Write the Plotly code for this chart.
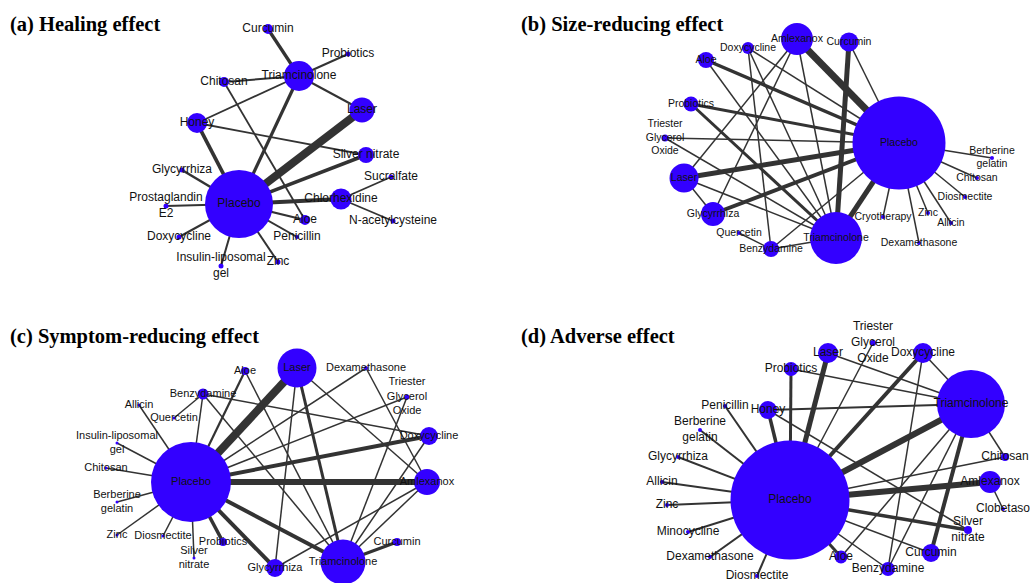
import plotly.graph_objects as go

NODE_COLOR = "#3300ff"
EDGE_COLOR = "#333333"

# ---------------- Panel (a) Healing effect ----------------
a_title = "(a) Healing effect"
a_nodes = ["Placebo", "Triamcinolone", "Laser", "Honey", "Sliver nitrate", "Chlorhexidine",
           "Curcumin", "Probiotics", "Chitosan", "Sucralfate", "N-acetylcysteine", "Aloe",
           "Penicillin", "Zinc", "Insulin-liposomal<br>gel", "Doxycycline", "Prostaglandin<br>E2",
           "Glycyrrhiza"]
a_x = [239, 299, 362, 197, 366, 341, 268, 348, 224, 391, 393, 305, 297, 278, 221, 179, 166, 182]
a_y = [204, 76, 110, 123, 155, 199, 29, 54, 82, 177, 221, 220, 237, 262, 266, 237, 206, 170]
a_size = [68, 30, 25, 20, 16, 21, 10, 5, 10, 5, 5, 10, 4, 5, 5, 5, 5, 5]
a_edges = [
    ("Placebo", "Laser", 8), ("Placebo", "Triamcinolone", 3.2), ("Placebo", "Honey", 3.8),
    ("Placebo", "Sliver nitrate", 3.5), ("Placebo", "Chlorhexidine", 3.8),
    ("Placebo", "Glycyrrhiza", 2.6), ("Placebo", "Prostaglandin<br>E2", 2),
    ("Placebo", "Doxycycline", 2), ("Placebo", "Insulin-liposomal<br>gel", 2),
    ("Placebo", "Zinc", 2), ("Placebo", "Penicillin", 2), ("Placebo", "Aloe", 2),
    ("Triamcinolone", "Curcumin", 3.3), ("Triamcinolone", "Probiotics", 2),
    ("Triamcinolone", "Chitosan", 2), ("Triamcinolone", "Honey", 1.8),
    ("Triamcinolone", "Laser", 2), ("Chitosan", "Aloe", 1.8), ("Honey", "Sliver nitrate", 1.8),
    ("Chlorhexidine", "Sucralfate", 1.8), ("Chlorhexidine", "N-acetylcysteine", 1.8),
]

# ---------------- Panel (b) Size-reducing effect ----------------
b_title = "(b) Size-reducing effect"
b_nodes = ["Placebo", "Triamcinolone", "Amlexanox", "Curcumin", "Doxycycline", "Aloe",
           "Probiotics", "Triester<br>Glycerol<br>Oxide", "Laser", "Glycyrrhiza", "Quercetin",
           "Benzydamine", "Cryotherapy", "Zinc", "Allicin", "Dexamethasone", "Diosmectite",
           "Chitosan", "Berberine<br>gelatin"]
b_x = [899, 836, 797, 849, 748, 706, 691, 665, 684, 713, 739, 771, 883, 928, 951, 919, 965, 977, 992]
b_y = [143, 238, 39, 42, 48, 60, 104, 138, 178, 214, 233, 249, 217, 213, 223, 243, 197, 178, 158]
b_size = [93, 52, 32, 19, 12, 16, 15, 7, 29, 24, 4, 16, 4, 4, 4, 4, 4, 4, 4]
b_edges = [
    ("Placebo", "Amlexanox", 7), ("Placebo", "Curcumin", 1.5), ("Placebo", "Triamcinolone", 5),
    ("Placebo", "Aloe", 3.5), ("Placebo", "Probiotics", 3), ("Placebo", "Triester<br>Glycerol<br>Oxide", 1.5),
    ("Placebo", "Laser", 5), ("Placebo", "Glycyrrhiza", 4), ("Placebo", "Doxycycline", 1.5),
    ("Placebo", "Benzydamine", 1.5), ("Placebo", "Cryotherapy", 1.5), ("Placebo", "Zinc", 1.5),
    ("Placebo", "Allicin", 1.5), ("Placebo", "Dexamethasone", 1.5), ("Placebo", "Diosmectite", 1.5),
    ("Placebo", "Chitosan", 1.5), ("Placebo", "Berberine<br>gelatin", 1.5),
    ("Triamcinolone", "Curcumin", 5), ("Triamcinolone", "Amlexanox", 1.5),
    ("Triamcinolone", "Doxycycline", 1.5), ("Triamcinolone", "Aloe", 1.5),
    ("Triamcinolone", "Probiotics", 3), ("Triamcinolone", "Triester<br>Glycerol<br>Oxide", 1.5),
    ("Triamcinolone", "Laser", 1.5), ("Triamcinolone", "Benzydamine", 1.5),
    ("Amlexanox", "Laser", 1.5), ("Amlexanox", "Glycyrrhiza", 1.5),
    ("Doxycycline", "Benzydamine", 1.5), ("Laser", "Glycyrrhiza", 1.5),
    ("Quercetin", "Benzydamine", 1.5),
]

# ---------------- Panel (c) Symptom-reducing effect ----------------
c_title = "(c) Symptom-reducing effect"
c_nodes = ["Placebo", "Laser", "Triamcinolone", "Amlexanox", "Doxycycline", "Glycyrrhiza",
           "Curcumin", "Probiotics", "Aloe", "Benzydamine", "Dexamethasone",
           "Triester<br>Glycerol<br>Oxide", "Allicin", "Quercetin", "Insulin-liposomal<br>gel",
           "Chitosan", "Berberine<br>gelatin", "Zinc", "Diosmectite", "Silver<br>nitrate"]
c_x = [191, 297, 343, 427, 429, 275, 397, 223, 245, 203, 366, 407, 139, 174, 117, 106, 117, 117, 163, 194]
c_y = [482, 368, 562, 482, 436, 568, 542, 542, 371, 394, 368, 397, 405, 418, 443, 468, 502, 535, 536, 558]
c_size = [80, 39, 45, 26, 18, 18, 8, 8, 8, 11, 4, 5, 3, 3, 3, 3, 3, 3, 3, 3]
c_edges = [
    ("Placebo", "Laser", 8), ("Placebo", "Amlexanox", 6), ("Placebo", "Doxycycline", 4),
    ("Placebo", "Triamcinolone", 4), ("Placebo", "Glycyrrhiza", 4), ("Placebo", "Probiotics", 3.5),
    ("Placebo", "Aloe", 2.2), ("Placebo", "Benzydamine", 1.5), ("Placebo", "Allicin", 1.5),
    ("Placebo", "Insulin-liposomal<br>gel", 1.5), ("Placebo", "Chitosan", 1.5),
    ("Placebo", "Berberine<br>gelatin", 1.5), ("Placebo", "Zinc", 1.5), ("Placebo", "Diosmectite", 1.5),
    ("Placebo", "Silver<br>nitrate", 1.5), ("Placebo", "Dexamethasone", 1.5),
    ("Placebo", "Triester<br>Glycerol<br>Oxide", 1.5),
    ("Laser", "Triamcinolone", 3), ("Laser", "Glycyrrhiza", 1.5), ("Laser", "Amlexanox", 1.5),
    ("Aloe", "Triamcinolone", 1.5), ("Benzydamine", "Doxycycline", 1.5),
    ("Benzydamine", "Triamcinolone", 1.5), ("Benzydamine", "Quercetin", 1.5),
    ("Dexamethasone", "Amlexanox", 1.5), ("Triester<br>Glycerol<br>Oxide", "Triamcinolone", 1.5),
    ("Doxycycline", "Triamcinolone", 1.5), ("Amlexanox", "Triamcinolone", 1.5),
    ("Glycyrrhiza", "Amlexanox", 1.5), ("Triamcinolone", "Curcumin", 3),
]

# ---------------- Panel (d) Adverse effect ----------------
d_title = "(d) Adverse effect"
d_nodes = ["Placebo", "Triamcinolone", "Amlexanox", "Laser", "Doxycycline", "Probiotics", "Honey",
           "Curcumin", "Aloe", "Benzydamine", "Silver<br>nitrate", "Chitosan", "Clobetaso",
           "Triester<br>Glycerol<br>Oxide", "Penicillin", "Berberine<br>gelatin", "Glycyrrhiza",
           "Allicin", "Zinc", "Minocycline", "Dexamethasone", "Diosmectite"]
d_x = [790, 971, 990, 828, 923, 791, 768, 931, 841, 888, 968, 1005, 1003, 873, 725, 700, 678, 662, 667, 688, 710, 757]
d_y = [500, 404, 482, 353, 353, 369, 410, 553, 557, 569, 530, 457, 509, 343, 406, 430, 457, 482, 505, 532, 557, 576]
d_size = [119, 68, 22, 20, 20, 14, 18, 18, 13, 14, 8, 8, 4, 6, 4, 4, 4, 4, 4, 4, 4, 4]
d_edges = [
    ("Placebo", "Laser", 5), ("Placebo", "Probiotics", 3), ("Placebo", "Honey", 3.5),
    ("Placebo", "Doxycycline", 4), ("Placebo", "Triamcinolone", 6), ("Placebo", "Amlexanox", 6),
    ("Placebo", "Silver<br>nitrate", 3.5), ("Placebo", "Chitosan", 1.5), ("Placebo", "Curcumin", 1.5),
    ("Placebo", "Benzydamine", 1.5), ("Placebo", "Aloe", 3), ("Placebo", "Triester<br>Glycerol<br>Oxide", 1.5),
    ("Placebo", "Penicillin", 2), ("Placebo", "Berberine<br>gelatin", 2), ("Placebo", "Glycyrrhiza", 2),
    ("Placebo", "Allicin", 2), ("Placebo", "Zinc", 2), ("Placebo", "Minocycline", 2),
    ("Placebo", "Dexamethasone", 2), ("Placebo", "Diosmectite", 2),
    ("Triamcinolone", "Laser", 1.5), ("Triamcinolone", "Probiotics", 1.5), ("Triamcinolone", "Honey", 2),
    ("Triamcinolone", "Doxycycline", 1.5), ("Triamcinolone", "Curcumin", 4),
    ("Triamcinolone", "Chitosan", 1.5), ("Triamcinolone", "Benzydamine", 1.5),
    ("Triamcinolone", "Aloe", 1.5), ("Doxycycline", "Benzydamine", 1.5),
    ("Honey", "Silver<br>nitrate", 1.5), ("Amlexanox", "Clobetaso", 1.5),
]

panels = [
    (a_title, a_nodes, a_x, a_y, a_size, a_edges, 12, (8, 24)),
    (b_title, b_nodes, b_x, b_y, b_size, b_edges, 10.5, (519, 24)),
    (c_title, c_nodes, c_x, c_y, c_size, c_edges, 11, (8, 336)),
    (d_title, d_nodes, d_x, d_y, d_size, d_edges, 12, (519, 336)),
]

fig = go.Figure()

for title, nodes, xs, ys, sizes, edges, fsize, tpos in panels:
    idx = {n: i for i, n in enumerate(nodes)}
    for s, t, w in edges:
        i, j = idx[s], idx[t]
        fig.add_trace(go.Scatter(x=[xs[i], xs[j]], y=[ys[i], ys[j]], mode="lines",
                                 line=dict(color=EDGE_COLOR, width=w),
                                 hoverinfo="skip", showlegend=False, cliponaxis=False))

for title, nodes, xs, ys, sizes, edges, fsize, tpos in panels:
    fig.add_trace(go.Scatter(x=xs, y=ys, mode="markers", opacity=1,
                             marker=dict(size=sizes, color=NODE_COLOR, opacity=1, line=dict(width=0)),
                             hovertext=nodes, hoverinfo="text", showlegend=False, cliponaxis=False))

for title, nodes, xs, ys, sizes, edges, fsize, tpos in panels:
    fig.add_trace(go.Scatter(x=xs, y=ys, mode="text", text=nodes,
                             textposition="middle center", cliponaxis=False,
                             textfont=dict(family="Arial, Liberation Sans", size=fsize, color="#111111"),
                             hoverinfo="skip", showlegend=False))
    fig.add_annotation(x=tpos[0], y=tpos[1], xref="x", yref="y", text="<b>" + title + "</b>",
                       showarrow=False, xanchor="left", yanchor="middle",
                       font=dict(family="Times New Roman, Liberation Serif", size=20.5, color="black"))

fig.update_layout(
    width=1030, height=583, autosize=False,
    margin=dict(l=0, r=0, t=0, b=0),
    paper_bgcolor="white", plot_bgcolor="white",
    xaxis=dict(range=[0, 1030], visible=False, fixedrange=True),
    yaxis=dict(range=[583, 0], visible=False, fixedrange=True),
)

# remove the default 8px page margin so the figure fills the window exactly
fig.write_html("out.html", config={"displayModeBar": False},
               post_script="document.body.style.margin='0px';document.body.style.overflow='hidden';")
